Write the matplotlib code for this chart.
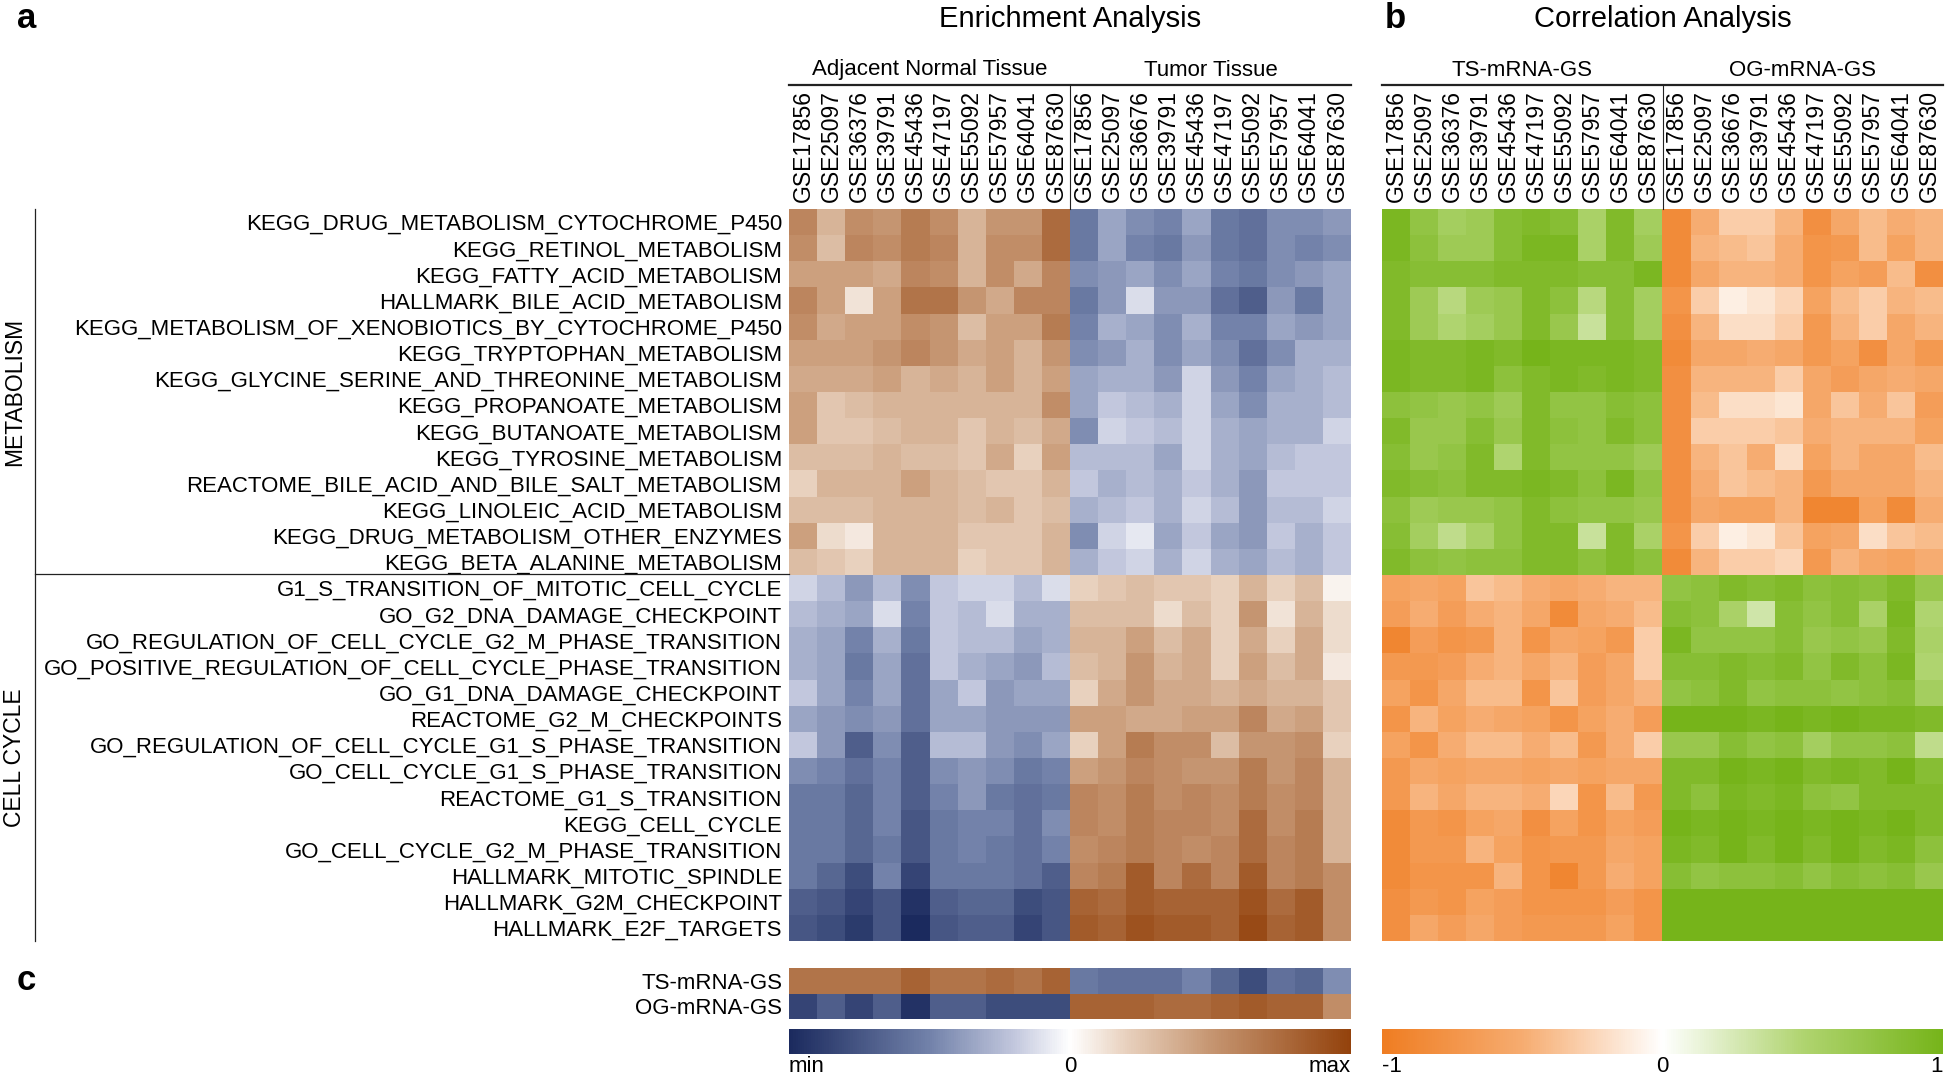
import numpy as np
import matplotlib
matplotlib.use("Agg")
import matplotlib.pyplot as plt
from matplotlib.colors import LinearSegmentedColormap, Normalize
from matplotlib.cm import ScalarMappable

plt.rcParams['font.family'] = ['Liberation Sans', 'DejaVu Sans']

# ---- data ----
normal_sets = ["GSE17856", "GSE25097", "GSE36376", "GSE39791", "GSE45436",
               "GSE47197", "GSE55092", "GSE57957", "GSE64041", "GSE87630"]
tumor_sets = ["GSE17856", "GSE25097", "GSE36676", "GSE39791", "GSE45436",
              "GSE47197", "GSE55092", "GSE57957", "GSE64041", "GSE87630"]

metabolism = [
    "KEGG_DRUG_METABOLISM_CYTOCHROME_P450",
    "KEGG_RETINOL_METABOLISM",
    "KEGG_FATTY_ACID_METABOLISM",
    "HALLMARK_BILE_ACID_METABOLISM",
    "KEGG_METABOLISM_OF_XENOBIOTICS_BY_CYTOCHROME_P450",
    "KEGG_TRYPTOPHAN_METABOLISM",
    "KEGG_GLYCINE_SERINE_AND_THREONINE_METABOLISM",
    "KEGG_PROPANOATE_METABOLISM",
    "KEGG_BUTANOATE_METABOLISM",
    "KEGG_TYROSINE_METABOLISM",
    "REACTOME_BILE_ACID_AND_BILE_SALT_METABOLISM",
    "KEGG_LINOLEIC_ACID_METABOLISM",
    "KEGG_DRUG_METABOLISM_OTHER_ENZYMES",
    "KEGG_BETA_ALANINE_METABOLISM",
]
cell_cycle = [
    "G1_S_TRANSITION_OF_MITOTIC_CELL_CYCLE",
    "GO_G2_DNA_DAMAGE_CHECKPOINT",
    "GO_REGULATION_OF_CELL_CYCLE_G2_M_PHASE_TRANSITION",
    "GO_POSITIVE_REGULATION_OF_CELL_CYCLE_PHASE_TRANSITION",
    "GO_G1_DNA_DAMAGE_CHECKPOINT",
    "REACTOME_G2_M_CHECKPOINTS",
    "GO_REGULATION_OF_CELL_CYCLE_G1_S_PHASE_TRANSITION",
    "GO_CELL_CYCLE_G1_S_PHASE_TRANSITION",
    "REACTOME_G1_S_TRANSITION",
    "KEGG_CELL_CYCLE",
    "GO_CELL_CYCLE_G2_M_PHASE_TRANSITION",
    "HALLMARK_MITOTIC_SPINDLE",
    "HALLMARK_G2M_CHECKPOINT",
    "HALLMARK_E2F_TARGETS",
]
pathways = metabolism + cell_cycle

# enrichment score (scaled min..max -> -1..1), columns: 10 normal then 10 tumor
enrichment = np.array([
    [0.60, 0.35, 0.55, 0.50, 0.65, 0.55, 0.35, 0.50, 0.50, 0.75, -0.55, -0.35, -0.45, -0.50, -0.35, -0.55, -0.60, -0.45, -0.45, -0.40],
    [0.55, 0.30, 0.60, 0.55, 0.65, 0.60, 0.35, 0.55, 0.55, 0.75, -0.55, -0.35, -0.50, -0.55, -0.40, -0.55, -0.60, -0.45, -0.50, -0.45],
    [0.45, 0.45, 0.45, 0.40, 0.60, 0.55, 0.35, 0.55, 0.40, 0.60, -0.45, -0.40, -0.35, -0.45, -0.35, -0.50, -0.55, -0.45, -0.40, -0.35],
    [0.60, 0.45, 0.12, 0.45, 0.70, 0.70, 0.50, 0.40, 0.60, 0.60, -0.55, -0.40, -0.12, -0.40, -0.40, -0.60, -0.70, -0.40, -0.55, -0.35],
    [0.55, 0.40, 0.45, 0.45, 0.55, 0.50, 0.30, 0.45, 0.45, 0.65, -0.50, -0.30, -0.35, -0.45, -0.30, -0.50, -0.50, -0.35, -0.40, -0.35],
    [0.45, 0.45, 0.45, 0.50, 0.60, 0.50, 0.40, 0.45, 0.35, 0.50, -0.45, -0.40, -0.30, -0.45, -0.35, -0.45, -0.60, -0.45, -0.30, -0.30],
    [0.40, 0.40, 0.40, 0.45, 0.35, 0.40, 0.35, 0.45, 0.35, 0.45, -0.35, -0.30, -0.30, -0.40, -0.15, -0.40, -0.50, -0.35, -0.30, -0.25],
    [0.45, 0.25, 0.30, 0.35, 0.35, 0.35, 0.35, 0.35, 0.35, 0.55, -0.35, -0.20, -0.25, -0.30, -0.15, -0.35, -0.45, -0.30, -0.30, -0.25],
    [0.45, 0.25, 0.25, 0.30, 0.35, 0.35, 0.25, 0.35, 0.30, 0.40, -0.45, -0.15, -0.20, -0.25, -0.15, -0.30, -0.35, -0.30, -0.30, -0.15],
    [0.30, 0.30, 0.30, 0.35, 0.30, 0.30, 0.25, 0.40, 0.20, 0.45, -0.25, -0.25, -0.25, -0.35, -0.15, -0.30, -0.35, -0.25, -0.20, -0.20],
    [0.20, 0.35, 0.35, 0.35, 0.45, 0.35, 0.30, 0.25, 0.25, 0.35, -0.20, -0.30, -0.25, -0.30, -0.20, -0.30, -0.40, -0.20, -0.20, -0.20],
    [0.30, 0.30, 0.30, 0.35, 0.35, 0.35, 0.30, 0.35, 0.25, 0.30, -0.30, -0.25, -0.20, -0.30, -0.15, -0.25, -0.40, -0.25, -0.25, -0.15],
    [0.45, 0.15, 0.10, 0.35, 0.35, 0.35, 0.25, 0.25, 0.25, 0.35, -0.45, -0.15, -0.08, -0.35, -0.20, -0.35, -0.40, -0.20, -0.30, -0.20],
    [0.30, 0.25, 0.20, 0.35, 0.35, 0.35, 0.20, 0.25, 0.25, 0.35, -0.30, -0.20, -0.15, -0.30, -0.15, -0.30, -0.35, -0.25, -0.30, -0.20],
    [-0.15, -0.25, -0.40, -0.25, -0.45, -0.20, -0.15, -0.15, -0.25, -0.12, 0.20, 0.25, 0.30, 0.25, 0.25, 0.20, 0.35, 0.20, 0.30, 0.05],
    [-0.25, -0.30, -0.35, -0.12, -0.50, -0.20, -0.25, -0.12, -0.30, -0.30, 0.30, 0.30, 0.30, 0.15, 0.30, 0.20, 0.50, 0.12, 0.35, 0.15],
    [-0.30, -0.35, -0.50, -0.30, -0.55, -0.20, -0.25, -0.25, -0.35, -0.30, 0.35, 0.35, 0.45, 0.30, 0.40, 0.20, 0.40, 0.20, 0.40, 0.15],
    [-0.30, -0.35, -0.55, -0.35, -0.60, -0.20, -0.30, -0.35, -0.40, -0.25, 0.30, 0.35, 0.50, 0.35, 0.40, 0.20, 0.45, 0.30, 0.40, 0.10],
    [-0.20, -0.35, -0.50, -0.35, -0.60, -0.35, -0.20, -0.40, -0.35, -0.35, 0.20, 0.40, 0.50, 0.40, 0.40, 0.35, 0.40, 0.35, 0.35, 0.25],
    [-0.35, -0.40, -0.45, -0.40, -0.60, -0.35, -0.35, -0.40, -0.40, -0.40, 0.45, 0.45, 0.40, 0.40, 0.45, 0.45, 0.60, 0.40, 0.45, 0.25],
    [-0.20, -0.40, -0.70, -0.45, -0.70, -0.25, -0.25, -0.40, -0.45, -0.35, 0.20, 0.45, 0.65, 0.55, 0.55, 0.30, 0.50, 0.50, 0.55, 0.20],
    [-0.45, -0.50, -0.60, -0.50, -0.70, -0.45, -0.40, -0.45, -0.55, -0.50, 0.45, 0.50, 0.60, 0.55, 0.50, 0.50, 0.65, 0.50, 0.60, 0.35],
    [-0.55, -0.55, -0.65, -0.50, -0.70, -0.50, -0.40, -0.55, -0.60, -0.55, 0.60, 0.55, 0.65, 0.55, 0.60, 0.55, 0.65, 0.55, 0.60, 0.35],
    [-0.55, -0.55, -0.65, -0.50, -0.75, -0.55, -0.50, -0.50, -0.60, -0.45, 0.60, 0.55, 0.65, 0.60, 0.60, 0.55, 0.75, 0.55, 0.65, 0.35],
    [-0.55, -0.55, -0.65, -0.55, -0.75, -0.55, -0.50, -0.55, -0.60, -0.50, 0.55, 0.60, 0.65, 0.60, 0.55, 0.60, 0.75, 0.60, 0.65, 0.35],
    [-0.55, -0.65, -0.80, -0.50, -0.85, -0.55, -0.55, -0.55, -0.60, -0.70, 0.60, 0.65, 0.85, 0.60, 0.75, 0.60, 0.85, 0.60, 0.65, 0.55],
    [-0.70, -0.75, -0.85, -0.75, -0.95, -0.70, -0.65, -0.65, -0.80, -0.75, 0.80, 0.75, 0.85, 0.80, 0.80, 0.80, 0.90, 0.75, 0.85, 0.55],
    [-0.75, -0.80, -0.90, -0.75, -1.00, -0.75, -0.70, -0.70, -0.85, -0.75, 0.85, 0.80, 0.90, 0.85, 0.85, 0.80, 0.95, 0.80, 0.85, 0.55],
])

# gene-set score rows for panel c
ts_score = [0.70, 0.70, 0.70, 0.70, 0.80, 0.70, 0.70, 0.75, 0.70, 0.80,
            -0.55, -0.60, -0.60, -0.60, -0.50, -0.65, -0.80, -0.60, -0.65, -0.45]
og_score = [-0.85, -0.70, -0.85, -0.70, -0.95, -0.70, -0.70, -0.80, -0.80, -0.80,
            0.80, 0.80, 0.80, 0.75, 0.75, 0.80, 0.85, 0.80, 0.80, 0.55]

# correlation with TS-mRNA-GS (first 10) and OG-mRNA-GS (last 10)
correlation = np.array([
    [0.95, 0.75, 0.60, 0.65, 0.85, 0.90, 0.85, 0.55, 0.90, 0.60, -0.85, -0.50, -0.30, -0.30, -0.45, -0.80, -0.55, -0.40, -0.50, -0.45],
    [0.95, 0.80, 0.65, 0.65, 0.85, 0.95, 0.95, 0.55, 0.90, 0.65, -0.85, -0.45, -0.40, -0.35, -0.50, -0.75, -0.70, -0.40, -0.60, -0.45],
    [0.90, 0.85, 0.85, 0.85, 0.90, 0.90, 0.90, 0.85, 0.85, 0.95, -0.85, -0.55, -0.45, -0.45, -0.50, -0.75, -0.60, -0.65, -0.40, -0.80],
    [0.90, 0.65, 0.45, 0.65, 0.70, 0.90, 0.80, 0.45, 0.85, 0.60, -0.75, -0.30, -0.10, -0.15, -0.25, -0.60, -0.40, -0.30, -0.45, -0.40],
    [0.90, 0.65, 0.50, 0.60, 0.70, 0.90, 0.70, 0.35, 0.85, 0.60, -0.80, -0.45, -0.20, -0.20, -0.30, -0.70, -0.45, -0.30, -0.55, -0.45],
    [0.95, 0.90, 0.90, 0.95, 0.90, 1.00, 0.95, 0.95, 0.95, 0.90, -0.85, -0.55, -0.55, -0.50, -0.55, -0.70, -0.60, -0.80, -0.55, -0.70],
    [0.95, 0.90, 0.90, 0.95, 0.80, 0.90, 0.95, 0.90, 0.95, 0.90, -0.80, -0.45, -0.45, -0.45, -0.30, -0.55, -0.65, -0.55, -0.50, -0.55],
    [0.80, 0.75, 0.70, 0.75, 0.65, 0.90, 0.75, 0.75, 0.85, 0.80, -0.80, -0.40, -0.20, -0.20, -0.15, -0.55, -0.35, -0.50, -0.35, -0.65],
    [0.90, 0.70, 0.70, 0.85, 0.70, 0.90, 0.80, 0.75, 0.90, 0.80, -0.80, -0.30, -0.30, -0.30, -0.35, -0.50, -0.45, -0.45, -0.45, -0.60],
    [0.85, 0.70, 0.75, 0.90, 0.50, 0.90, 0.75, 0.75, 0.75, 0.65, -0.80, -0.45, -0.35, -0.50, -0.20, -0.60, -0.45, -0.55, -0.55, -0.40],
    [0.90, 0.85, 0.80, 0.90, 0.90, 0.95, 0.90, 0.80, 0.95, 0.75, -0.80, -0.50, -0.35, -0.40, -0.45, -0.70, -0.55, -0.55, -0.55, -0.45],
    [0.80, 0.65, 0.70, 0.70, 0.75, 0.90, 0.80, 0.75, 0.75, 0.70, -0.80, -0.55, -0.60, -0.60, -0.45, -0.90, -0.90, -0.60, -0.85, -0.50],
    [0.85, 0.60, 0.40, 0.55, 0.75, 0.90, 0.90, 0.35, 0.90, 0.55, -0.75, -0.30, -0.10, -0.15, -0.35, -0.60, -0.55, -0.20, -0.35, -0.40],
    [0.90, 0.80, 0.75, 0.80, 0.80, 0.90, 0.90, 0.80, 0.90, 0.80, -0.85, -0.45, -0.30, -0.30, -0.25, -0.70, -0.45, -0.55, -0.60, -0.50],
    [-0.60, -0.55, -0.60, -0.35, -0.40, -0.50, -0.55, -0.50, -0.45, -0.45, 0.75, 0.80, 0.90, 0.85, 0.90, 0.80, 0.85, 0.80, 0.90, 0.70],
    [-0.65, -0.50, -0.65, -0.50, -0.45, -0.55, -0.85, -0.55, -0.50, -0.40, 0.85, 0.80, 0.55, 0.30, 0.85, 0.75, 0.85, 0.55, 0.95, 0.50],
    [-0.90, -0.65, -0.75, -0.70, -0.45, -0.75, -0.55, -0.60, -0.70, -0.30, 0.95, 0.75, 0.75, 0.75, 0.85, 0.70, 0.75, 0.70, 0.90, 0.55],
    [-0.70, -0.70, -0.65, -0.50, -0.45, -0.55, -0.45, -0.65, -0.55, -0.30, 0.85, 0.85, 0.90, 0.85, 0.90, 0.75, 0.90, 0.80, 0.95, 0.50],
    [-0.60, -0.75, -0.55, -0.40, -0.40, -0.75, -0.35, -0.65, -0.55, -0.45, 0.75, 0.80, 0.90, 0.75, 0.80, 0.80, 0.75, 0.80, 0.85, 0.60],
    [-0.75, -0.45, -0.60, -0.50, -0.55, -0.60, -0.75, -0.60, -0.50, -0.65, 1.00, 1.00, 1.00, 0.95, 1.00, 0.95, 1.00, 0.95, 0.95, 0.90],
    [-0.60, -0.75, -0.50, -0.40, -0.40, -0.50, -0.40, -0.70, -0.50, -0.30, 0.70, 0.70, 0.85, 0.75, 0.80, 0.60, 0.75, 0.75, 0.80, 0.40],
    [-0.70, -0.55, -0.60, -0.55, -0.55, -0.60, -0.55, -0.60, -0.55, -0.55, 0.90, 0.90, 1.00, 0.95, 1.00, 0.90, 0.95, 0.90, 1.00, 0.85],
    [-0.70, -0.45, -0.55, -0.45, -0.45, -0.50, -0.25, -0.75, -0.40, -0.70, 0.90, 0.80, 0.95, 0.90, 0.95, 0.80, 0.75, 0.90, 0.90, 0.90],
    [-0.85, -0.70, -0.75, -0.60, -0.55, -0.80, -0.60, -0.75, -0.60, -0.65, 1.00, 0.95, 1.00, 0.95, 1.00, 0.95, 1.00, 0.95, 1.00, 0.90],
    [-0.85, -0.70, -0.70, -0.45, -0.60, -0.75, -0.70, -0.70, -0.55, -0.60, 0.95, 0.90, 1.00, 0.90, 1.00, 0.90, 1.00, 0.90, 0.95, 0.80],
    [-0.85, -0.75, -0.75, -0.75, -0.45, -0.75, -0.90, -0.70, -0.50, -0.60, 0.85, 0.75, 0.80, 0.80, 0.85, 0.75, 0.85, 0.80, 0.85, 0.70],
    [-0.80, -0.70, -0.75, -0.60, -0.65, -0.75, -0.75, -0.75, -0.65, -0.75, 1.00, 1.00, 1.00, 1.00, 1.00, 1.00, 1.00, 1.00, 1.00, 1.00],
    [-0.80, -0.55, -0.65, -0.55, -0.65, -0.70, -0.70, -0.70, -0.60, -0.75, 1.00, 1.00, 1.00, 1.00, 1.00, 1.00, 1.00, 1.00, 1.00, 1.00],
])

# ---- colour maps ----
enrich_cmap = LinearSegmentedColormap.from_list("enrich", [
    (0.0, "#1B2A5E"), (0.25, "#7282AA"), (0.4, "#C2C7DD"), (0.5, "#FFFFFF"),
    (0.6, "#E8D1BE"), (0.75, "#C69672"), (1.0, "#93420C")])
corr_cmap = LinearSegmentedColormap.from_list("corr", [
    (0.0, "#EF7D22"), (0.25, "#F6AC70"), (0.5, "#FFFFFF"),
    (0.75, "#B0D470"), (1.0, "#76B41A")])

W, H = 1949, 1080
fig = plt.figure(figsize=(W / 100, H / 100), dpi=100)


def box(x0, y0, x1, y1):
    # pixel box (top-left origin) -> figure fraction rect
    return [x0 / W, 1 - y1 / H, (x1 - x0) / W, (y1 - y0) / H]


FS = 16.5
ROW_FS = 16
HEAT_L, HEAT_R, MID = 789, 1351, 1070
CORR_L, CORR_R, CMID = 1382, 1943, 1663
TOP, BOT, SPLIT = 209, 941, 574

# panel a
ax_e = fig.add_axes(box(HEAT_L, TOP, HEAT_R, BOT))
ax_e.pcolormesh(enrichment, cmap=enrich_cmap, vmin=-1, vmax=1)
ax_e.set_xlim(0, 20)
ax_e.set_ylim(len(pathways), 0)
ax_e.xaxis.tick_top()
ax_e.set_xticks(np.arange(20) + 0.5)
ax_e.set_xticklabels(normal_sets + tumor_sets, rotation=90, fontsize=FS)
ax_e.set_yticks(np.arange(len(pathways)) + 0.5)
ax_e.set_yticklabels(pathways, fontsize=ROW_FS)
ax_e.tick_params(length=0, pad=5)
for s in ax_e.spines.values():
    s.set_visible(False)

# panel b
ax_c = fig.add_axes(box(CORR_L, TOP, CORR_R, BOT))
ax_c.pcolormesh(correlation, cmap=corr_cmap, vmin=-1, vmax=1)
ax_c.set_xlim(0, 20)
ax_c.set_ylim(len(pathways), 0)
ax_c.xaxis.tick_top()
ax_c.set_xticks(np.arange(20) + 0.5)
ax_c.set_xticklabels(normal_sets + tumor_sets, rotation=90, fontsize=FS)
ax_c.set_yticks([])
ax_c.tick_params(length=0, pad=5)
for s in ax_c.spines.values():
    s.set_visible(False)

# panel c
ax_s = fig.add_axes(box(HEAT_L, 968, HEAT_R, 1019))
ax_s.pcolormesh(np.array([ts_score, og_score]), cmap=enrich_cmap, vmin=-1, vmax=1)
ax_s.set_xlim(0, 20)
ax_s.set_ylim(2, 0)
ax_s.set_xticks([])
ax_s.set_yticks([0.5, 1.5])
ax_s.set_yticklabels(["TS-mRNA-GS", "OG-mRNA-GS"], fontsize=ROW_FS)
ax_s.tick_params(length=0, pad=5)
for s in ax_s.spines.values():
    s.set_visible(False)

# colour bars
for (x0, x1), cmap, labels in [((HEAT_L, HEAT_R), enrich_cmap, ["min", "0", "max"]),
                               ((CORR_L, CORR_R), corr_cmap, ["-1", "0", "1"])]:
    cax = fig.add_axes(box(x0, 1029, x1, 1054))
    cb = fig.colorbar(ScalarMappable(Normalize(-1, 1), cmap), cax=cax, orientation="horizontal")
    cb.outline.set_visible(False)
    cb.set_ticks([])
    for xpos, lab, ha in zip([0, 0.5, 1], labels, ["left", "center", "right"]):
        cax.text(xpos, -0.5, lab, transform=cax.transAxes, ha=ha, va="center", fontsize=ROW_FS)

# overlay for titles, headers and bracket lines (pixel coordinates)
ov = fig.add_axes([0, 0, 1, 1], facecolor="none")
ov.set_xlim(0, W)
ov.set_ylim(H, 0)
ov.axis("off")

ov.text(17, 18, "a", fontsize=25, fontweight="bold", ha="left", va="center")
ov.text(1385, 18, "b", fontsize=25, fontweight="bold", ha="left", va="center")
ov.text(17, 981, "c", fontsize=25, fontweight="bold", ha="left", va="center")
ov.text(MID, 19, "Enrichment Analysis", fontsize=21, ha="center", va="center")
ov.text(CMID, 19, "Correlation Analysis", fontsize=21, ha="center", va="center")

ov.text((HEAT_L + MID) / 2, 70, "Adjacent Normal Tissue", fontsize=ROW_FS, ha="center", va="center")
ov.text((MID + HEAT_R) / 2, 70, "Tumor Tissue", fontsize=ROW_FS, ha="center", va="center")
ov.text((CORR_L + CMID) / 2, 70, "TS-mRNA-GS", fontsize=ROW_FS, ha="center", va="center")
ov.text((CMID + CORR_R) / 2, 70, "OG-mRNA-GS", fontsize=ROW_FS, ha="center", va="center")

ov.plot([HEAT_L, HEAT_R], [85, 85], color="#222222", lw=1.6)
ov.plot([CORR_L, CORR_R], [85, 85], color="#222222", lw=1.6)
ov.plot([MID, MID], [85, TOP], color="#222222", lw=0.8)
ov.plot([CMID, CMID], [85, TOP], color="#222222", lw=0.8)

ov.plot([35, 35], [TOP, BOT], color="#222222", lw=0.9)
ov.plot([35, HEAT_L], [SPLIT, SPLIT], color="#222222", lw=0.9)
ov.text(15, (TOP + SPLIT) / 2, "METABOLISM", rotation=90, fontsize=FS, ha="center", va="center")
ov.text(15, (SPLIT + BOT) / 2, "CELL CYCLE", rotation=90, fontsize=FS, ha="center", va="center")

fig.savefig("out.png", dpi=100)
